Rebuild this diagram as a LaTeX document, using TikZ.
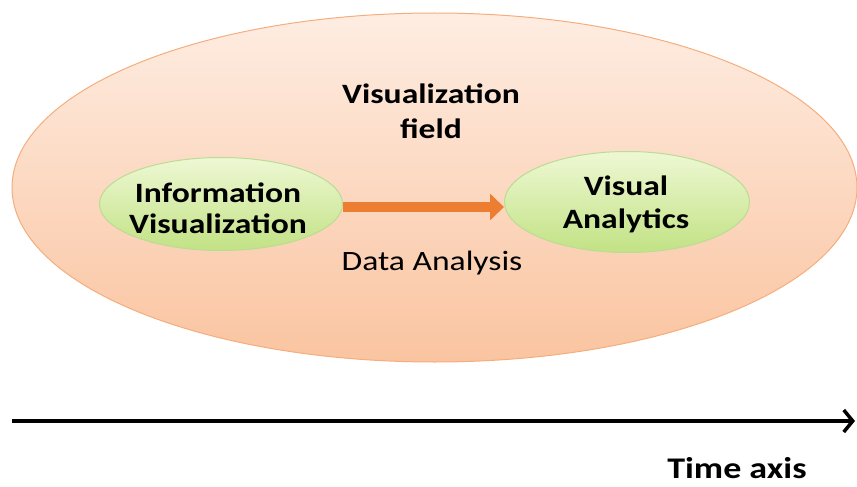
\documentclass[tikz,border=0pt]{standalone}
\usepackage{fontspec}
\setmainfont{Carlito}[FakeStretch=1.2]
\usetikzlibrary{shapes.geometric,arrows.meta}
\definecolor{peachT}{HTML}{FEEDE2}
\definecolor{peachB}{HTML}{FAC4A0}
\definecolor{peachD}{HTML}{F4AE7E}
\definecolor{greenT}{HTML}{EEF8D4}
\definecolor{greenB}{HTML}{C2E284}
\definecolor{greenD}{HTML}{BADC94}
\definecolor{arrowor}{HTML}{ED7D31}
\tikzset{
  field/.style={ellipse, draw=peachD, line width=1pt, top color=peachT, bottom color=peachB, minimum width=845pt, minimum height=349pt, inner sep=0pt},
  topic/.style={ellipse, draw=greenD, line width=1pt, top color=greenT, bottom color=greenB, inner sep=0pt},
  lbl/.style={align=center, inner sep=0pt},
  bigb/.style={font=\bfseries\fontsize{28}{31}\selectfont},
}
\begin{document}
\begin{tikzpicture}[x=1pt,y=-1pt]
\useasboundingbox (0,0) rectangle (857,487);
\node[field] (F) at (434.5,187.5) {};
\node[lbl, bigb, font=\bfseries\fontsize{28}{35}\selectfont] (FT) at (431,111) {Visualization\\field};
\node[topic, minimum width=243pt, minimum height=93pt] (IV) at (221,204) {};
\node[lbl, bigb] (IVt) at (218,208) {Information\\Visualization};
\node[topic, minimum width=245pt, minimum height=101pt] (VA) at (627,202) {};
\node[lbl, bigb, font=\bfseries\fontsize{28}{33}\selectfont] (VAt) at (626,204) {Visual\\Analytics};
\coordinate (A0) at (IV.east |- 0,207);
\coordinate (A1) at (VA.west |- 0,207);
\draw[arrowor, line width=10pt, -{Triangle[length=14pt,width=26pt]}] (A0) -- (A1);
\node[lbl, font=\fontsize{28}{30}\selectfont, anchor=base] (DA) at (432,270) {Data Analysis};
\coordinate (T0) at (12,421);
\coordinate (T1) at (855,421);
\draw[line width=3.5pt, -{Straight Barb[length=9pt,width=22pt,line width=3.5pt]}] (T0) -- (T1);
\node[lbl, font=\bfseries\fontsize{30}{34}\selectfont, anchor=base, text depth=0pt] (TA) at (737,478) {Time axis};
\end{tikzpicture}
\end{document}
